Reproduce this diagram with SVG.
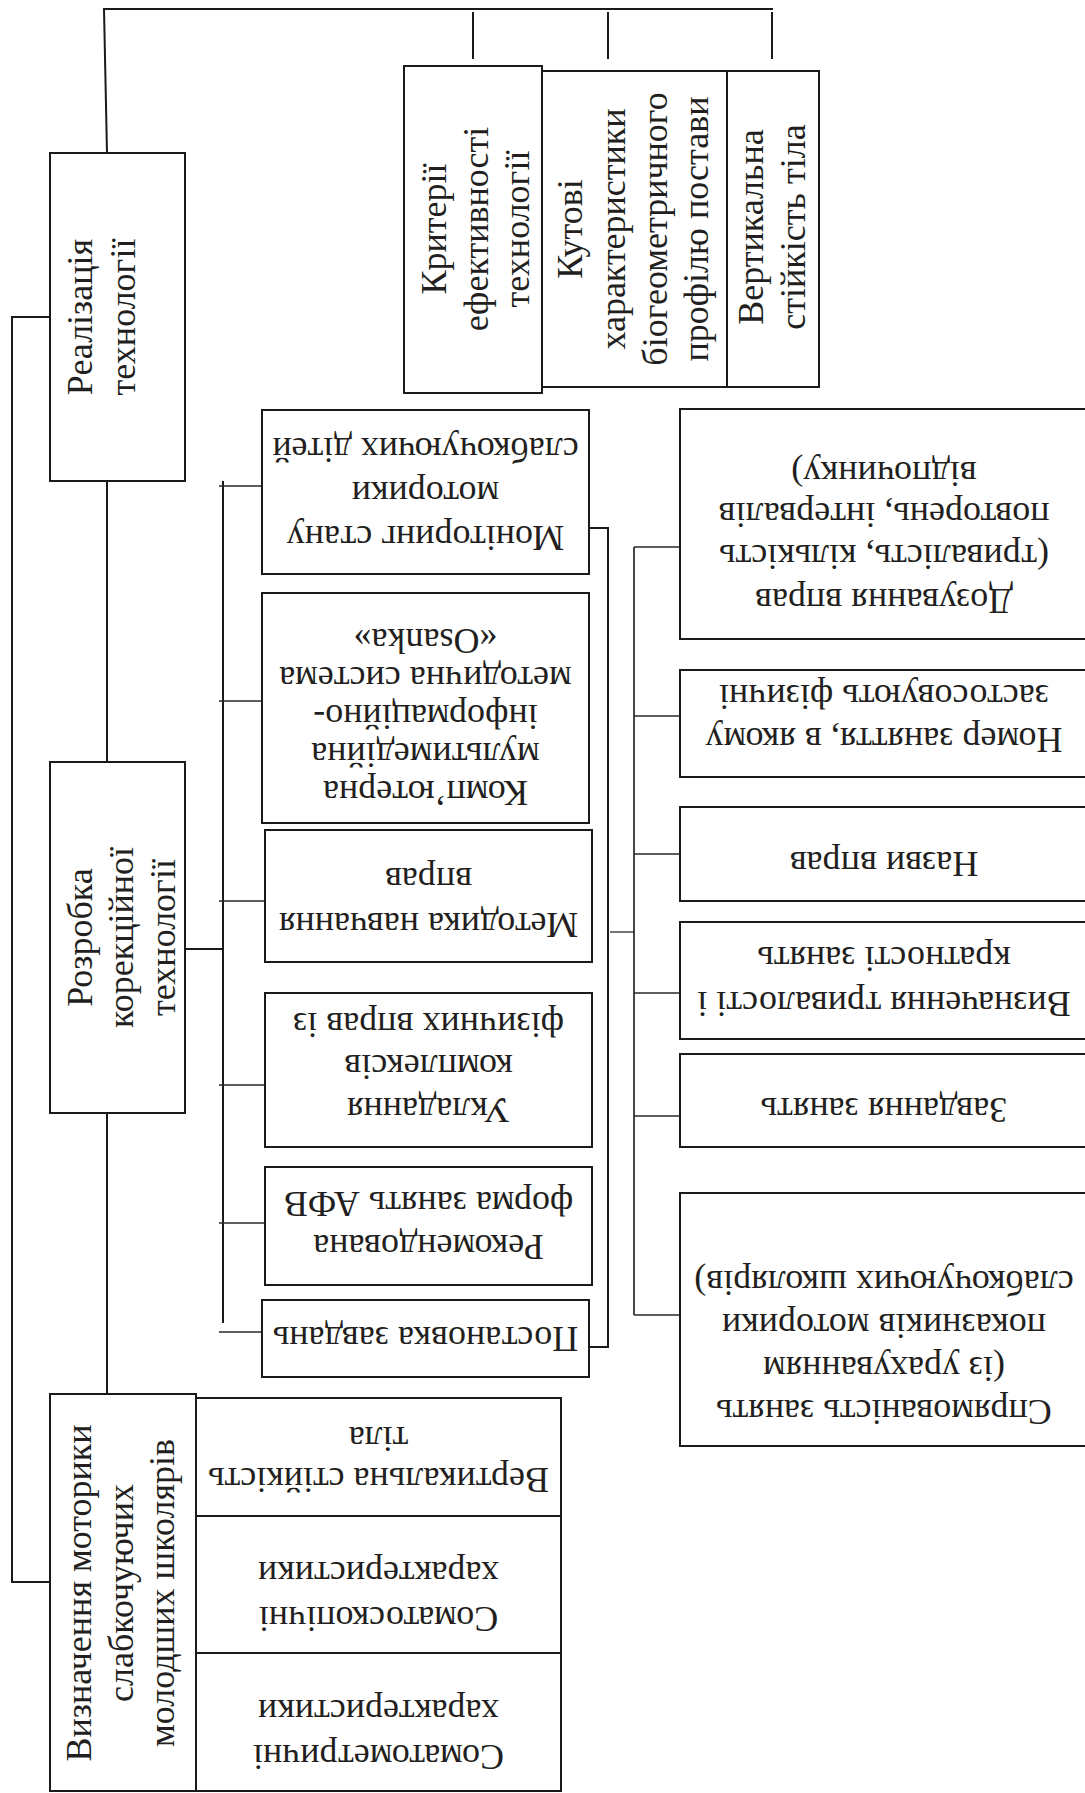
<svg xmlns="http://www.w3.org/2000/svg" width="1085" height="1793" viewBox="0 0 1085 1793">
<style>
.box{fill:none;stroke:#1a1a1a;stroke-width:2}
.c{fill:none;stroke:#1a1a1a;stroke-width:2}
.tk{fill:none;stroke:#2a2a2a;stroke-width:1.3}
.t{font-family:"Liberation Serif","Times New Roman",serif;font-size:36px;fill:#231f20;text-anchor:middle}
</style>
<rect x="0" y="0" width="1085" height="1793" fill="#fff"/>
<g id="connectors">
<path class="c" d="M107,153 L104,9 L773,9"/>
<path class="c" d="M473,12 V59 M608,12 V59 M772,12 V59"/>
<path class="c" d="M50,317 H12 V1582 H50"/>
<path class="c" d="M107,481 V762 M107,1113 V1394"/>
<path class="c" d="M185,949 H223 M223,481 V1323"/>
<path class="tk" d="M219,486 H262 M219,701 H262 M219,901 H265 M219,1085 H265 M219,1223 H265 M219,1332 H262"/>
<path class="c" d="M589,528 H608 V1347 H589"/>
<path class="tk" d="M610,932 H634"/>
<path class="c" d="M634,547 V1315" style="stroke-width:1.6"/>
<path class="tk" d="M634,547 H680 M634,716 H680 M634,854 H680 M634,993 H680 M634,1116 H680 M634,1315 H680"/>
</g>
<g id="realizatsiia">
<rect class="box" x="50" y="153" width="135" height="328"/>
<text class="t" transform="translate(0,317) rotate(-90)"><tspan x="0" y="91.5">Реалізація</tspan><tspan x="0" y="134.5">технології</tspan></text>
</g>
<g id="rozrobka">
<rect class="box" x="50" y="762" width="135" height="351"/>
<text class="t" transform="translate(0,937.5) rotate(-90)"><tspan x="0" y="91.5">Розробка</tspan><tspan x="0" y="133">корекційної</tspan><tspan x="0" y="174.5">технології</tspan></text>
</g>
<g id="vyznachennia">
<rect class="box" x="50" y="1394" width="146" height="397"/>
<text class="t" transform="translate(0,1593) rotate(-90)"><tspan x="0" y="91">Визначення моторики</tspan><tspan x="0" y="132.5">слабкочуючих</tspan><tspan x="0" y="174">молодших школярів</tspan></text>
</g>
<g id="kryterii">
<rect class="box" x="404" y="66" width="138" height="327"/>
<text class="t" transform="translate(0,229) rotate(-90)"><tspan x="0" y="446">Критерії</tspan><tspan x="0" y="487.5">ефективності</tspan><tspan x="0" y="529">технології</tspan></text>
</g>
<g id="kutovi">
<rect class="box" x="542" y="71" width="185" height="316"/>
<text class="t" transform="translate(0,229) rotate(-90)"><tspan x="0" y="582">Кутові</tspan><tspan x="0" y="625">характеристики</tspan><tspan x="0" y="667">біогеометричного</tspan><tspan x="0" y="708">профілю постави</tspan></text>
</g>
<g id="vertykalna-top">
<rect class="box" x="727" y="71" width="92" height="316"/>
<text class="t" transform="translate(0,227) rotate(-90)"><tspan x="0" y="763">Вертикальна</tspan><tspan x="0" y="805">стійкість тіла</tspan></text>
</g>
<g id="monitoring">
<rect class="box" x="262" y="410" width="327" height="164"/>
<text class="t" transform="translate(425.5,0) rotate(180)"><tspan x="0" y="-526">Моніторинг стану</tspan><tspan x="0" y="-482">моторики</tspan><tspan x="0" y="-438">слабкочуючих дітей</tspan></text>
</g>
<g id="kompiuterna">
<rect class="box" x="262" y="593" width="327" height="230"/>
<text class="t" transform="translate(425.5,0) rotate(180)"><tspan x="0" y="-781">Комп’ютерна</tspan><tspan x="0" y="-743">мультимедійна</tspan><tspan x="0" y="-705">інформаційно-</tspan><tspan x="0" y="-667">методична система</tspan><tspan x="0" y="-629">«Osanka»</tspan></text>
</g>
<g id="metodyka">
<rect class="box" x="265" y="830" width="327" height="132"/>
<text class="t" transform="translate(428.5,0) rotate(180)"><tspan x="0" y="-913">Методика навчання</tspan><tspan x="0" y="-868">вправ</tspan></text>
</g>
<g id="ukladannia">
<rect class="box" x="265" y="993" width="327" height="154"/>
<text class="t" transform="translate(428.5,0) rotate(180)"><tspan x="0" y="-1098">Укладання</tspan><tspan x="0" y="-1055">комплексів</tspan><tspan x="0" y="-1013">фізичних вправ із</tspan></text>
</g>
<g id="rekomendovana">
<rect class="box" x="265" y="1167" width="327" height="118"/>
<text class="t" transform="translate(428.5,0) rotate(180)"><tspan x="0" y="-1235">Рекомендована</tspan><tspan x="0" y="-1192">форма занять АФВ</tspan></text>
</g>
<g id="postanovka">
<rect class="box" x="262" y="1300" width="327" height="77"/>
<text class="t" transform="translate(425.5,0) rotate(180)"><tspan x="0" y="-1327">Постановка завдань</tspan></text>
</g>
<g id="dozuvannia">
<rect class="box" x="680" y="409" width="406" height="230"/>
<text class="t" transform="translate(884,0) rotate(180)"><tspan x="0" y="-589">Дозування вправ</tspan><tspan x="0" y="-545">(тривалість, кількість</tspan><tspan x="0" y="-503">повторень, інтервалів</tspan><tspan x="0" y="-462">відпочинку)</tspan></text>
</g>
<g id="nomer">
<rect class="box" x="680" y="670" width="406" height="107"/>
<text class="t" transform="translate(884,0) rotate(180)"><tspan x="0" y="-728">Номер заняття, в якому</tspan><tspan x="0" y="-685">застосовують фізичні</tspan></text>
</g>
<g id="nazvy">
<rect class="box" x="680" y="807" width="406" height="94"/>
<text class="t" transform="translate(884,0) rotate(180)"><tspan x="0" y="-852">Назви вправ</tspan></text>
</g>
<g id="tryvalist">
<rect class="box" x="680" y="922" width="406" height="117"/>
<text class="t" transform="translate(884,0) rotate(180)"><tspan x="0" y="-992">Визначення тривалості і</tspan><tspan x="0" y="-947">кратності занять</tspan></text>
</g>
<g id="zavdannia">
<rect class="box" x="680" y="1054" width="406" height="93"/>
<text class="t" transform="translate(884,0) rotate(180)"><tspan x="0" y="-1098">Завдання занять</tspan></text>
</g>
<g id="spriamovanist">
<rect class="box" x="680" y="1193" width="406" height="253"/>
<text class="t" transform="translate(884,0) rotate(180)"><tspan x="0" y="-1400">Спрямованість занять</tspan><tspan x="0" y="-1357">(із урахуванням</tspan><tspan x="0" y="-1314">показників моторики</tspan><tspan x="0" y="-1271">слабкочуючих школярів)</tspan></text>
</g>
<g id="vertykalna-bottom">
<rect class="box" x="196" y="1398" width="365" height="118"/>
<text class="t" transform="translate(378.5,0) rotate(180)"><tspan x="0" y="-1468">Вертикальна стійкість</tspan><tspan x="0" y="-1427">тіла</tspan></text>
</g>
<g id="somatoskopichni">
<rect class="box" x="196" y="1516" width="365" height="137"/>
<text class="t" transform="translate(378.5,0) rotate(180)"><tspan x="0" y="-1607">Соматоскопічні</tspan><tspan x="0" y="-1562">характеристики</tspan></text>
</g>
<g id="somatometrychni">
<rect class="box" x="196" y="1653" width="365" height="138"/>
<text class="t" transform="translate(378.5,0) rotate(180)"><tspan x="0" y="-1745">Соматометричні</tspan><tspan x="0" y="-1700">характеристики</tspan></text>
</g>
</svg>
